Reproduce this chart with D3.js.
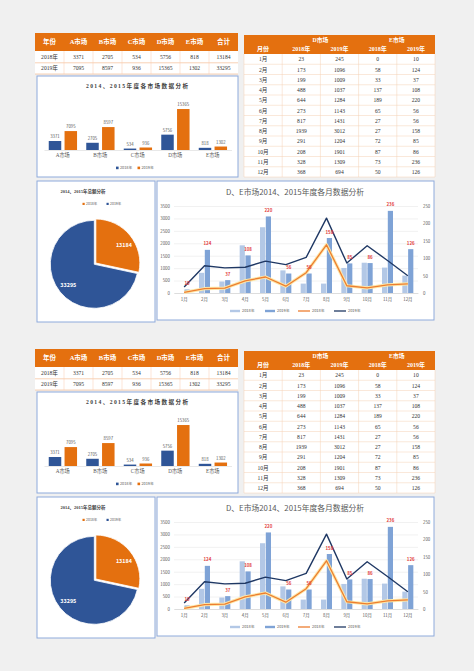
<!DOCTYPE html>
<html><head><meta charset="utf-8">
<script src="https://cdn.jsdelivr.net/npm/d3@7"></script>
<style>
html,body{margin:0;padding:0;background:#f0f0f0;}
svg{display:block;}
</style></head><body>
<svg id="c" width="474" height="671"></svg>
<script>
// ---------- data ----------
const markets = ["A市场","B市场","C市场","D市场","E市场"];
const years = ["2018年","2019年"];
const market2018 = [3371,2705,534,5756,818];
const market2019 = [7095,8597,936,15365,1302];
const months = ["1月","2月","3月","4月","5月","6月","7月","8月","9月","10月","11月","12月"];
const d2018 = [23,173,199,488,644,273,817,1939,291,208,328,368];
const d2019 = [245,1096,1009,1037,1284,1143,1431,3012,1204,1901,1309,694];
const e2018 = [0,58,33,137,189,65,27,27,72,87,73,50];
const e2019 = [10,124,37,108,220,56,56,158,85,86,236,126];
const leftTicks = [0,500,1000,1500,2000,2500,3000,3500];
const rightTicks = [0,50,100,150,200,250];
const tableHeader = ["年份"].concat(markets, ["合计"]);
const barTitle = "2014、2015年度各市场数据分析";
const pieTitle = "2014、2015年总额分析";
const comboTitle = "D、E市场2014、2015年度各月数据分析";

const total2018 = d3.sum(market2018), total2019 = d3.sum(market2019);

const ORANGE = "#e4700f", NAVY = "#2f5597", BORDER = "#8eaadb";
const LINE_OR = "#ed7d31", LINE_NV = "#1f3864";
const BAR_L = "#b3c8e6", BAR_D = "#7fa3d6";
const SERIF = "'Liberation Serif','Noto Sans CJK SC',serif";
const SANS = "'Noto Sans CJK SC','Liberation Sans',sans-serif";
const GRAY = "#595959";
const fmt = d3.format("d");

const svg = d3.select("#c");

function half(g){
  // ===== Left table =====
  const tX = 35, colW = 29, tW = colW*7;
  g.append("rect").attr("x",tX).attr("y",51).attr("width",tW).attr("height",23).attr("fill","#fff");
  g.append("rect").attr("x",tX).attr("y",33).attr("width",tW).attr("height",18).attr("fill",ORANGE);
  g.selectAll(".th").data(tableHeader).join("text")
    .attr("x",(d,i)=>tX+colW*i+colW/2).attr("y",42).attr("dy","0.35em")
    .attr("text-anchor","middle").attr("fill","#fff").attr("font-weight","bold")
    .attr("font-size",6.5).attr("font-family",SERIF).text(d=>d);
  const rows = [[years[0]].concat(market2018,[total2018]),[years[1]].concat(market2019,[total2019])];
  rows.forEach((r,ri)=>{
    const cy = 57.3 + ri*11;
    g.selectAll(".tr"+ri).data(r).join("text")
      .attr("x",(d,i)=>tX+colW*i+colW/2).attr("y",cy).attr("dy","0.35em")
      .attr("text-anchor","middle").attr("fill","#333").attr("font-size",5.6)
      .attr("font-family",SERIF).text(d=>d);
  });
  [62.8,74].forEach(y=>g.append("line").attr("x1",tX).attr("x2",tX+tW).attr("y1",y).attr("y2",y)
    .attr("stroke","#f4b183").attr("stroke-width",0.6));
  d3.range(1,7).forEach(i=>g.append("line").attr("x1",tX+colW*i).attr("x2",tX+colW*i)
    .attr("y1",51).attr("y2",74).attr("stroke","#f8cbad").attr("stroke-width",0.5));

  // ===== Bar chart =====
  g.append("rect").attr("x",37).attr("y",76).attr("width",201).attr("height",101)
    .attr("fill","#fff").attr("stroke",BORDER).attr("stroke-width",1);
  g.append("text").attr("x",137).attr("y",86).attr("dy","0.35em").attr("text-anchor","middle")
    .attr("font-size",5.6).attr("font-weight","bold").attr("fill","#404040").attr("font-family",SERIF)
    .attr("textLength",102).attr("lengthAdjust","spacing").text(barTitle);
  const bx = d3.scaleBand().domain(markets).range([44,231.5]);
  const by = d3.scaleLinear().domain([0,18000]).range([150,102]);
  const bw = 12.5;
  const bars = [{vals:market2018,col:NAVY,off:-14},{vals:market2019,col:ORANGE,off:1.8}];
  bars.forEach(s=>{
    const cx = m=>bx(m)+bx.bandwidth()/2+s.off;
    g.selectAll(null).data(markets).join("rect")
      .attr("x",cx).attr("width",bw)
      .attr("y",(m,i)=>by(s.vals[i])).attr("height",(m,i)=>by(0)-by(s.vals[i])).attr("fill",s.col);
    g.selectAll(null).data(markets).join("text")
      .attr("x",m=>cx(m)+bw/2).attr("y",(m,i)=>by(s.vals[i])-3)
      .attr("text-anchor","middle").attr("font-size",4.3).attr("fill",GRAY).attr("font-family",SANS)
      .text((m,i)=>s.vals[i]);
  });
  const bAxis = g.append("g").attr("transform","translate(0,150)")
    .call(d3.axisBottom(bx).tickSize(0).tickPadding(3.5));
  bAxis.select(".domain").attr("stroke","#d9d9d9").attr("stroke-width",0.6);
  bAxis.selectAll("text").attr("font-size",5.2).attr("fill",GRAY).attr("font-family",SERIF);
  [{c:NAVY,t:years[0],x:116},{c:ORANGE,t:years[1],x:137.5}].forEach(l=>{
    g.append("rect").attr("x",l.x).attr("y",166.6).attr("width",2.6).attr("height",2.6).attr("fill",l.c);
    g.append("text").attr("x",l.x+4).attr("y",168).attr("dy","0.35em").attr("font-size",3.8)
      .attr("fill",GRAY).attr("font-family",SANS).text(l.t);
  });

  // ===== Right table =====
  const rX = 244, rW = 38.2, rTop = 35, hH = 19, rowH = 10.25;
  g.append("rect").attr("x",rX).attr("y",rTop+hH).attr("width",rW*5).attr("height",rowH*12).attr("fill","#fff");
  g.append("rect").attr("x",rX).attr("y",rTop).attr("width",rW*5).attr("height",hH).attr("fill",ORANGE);
  const hdrStyle = s=>s.attr("text-anchor","middle").attr("fill","#fff").attr("font-weight","bold")
    .attr("font-family",SERIF).attr("dy","0.35em");
  g.append("text").attr("x",rX+rW*2).attr("y",40).attr("font-size",5.8).call(hdrStyle).text("D市场");
  g.append("text").attr("x",rX+rW*4).attr("y",40).attr("font-size",5.8).call(hdrStyle).text("E市场");
  ["月份",years[0],years[1],years[0],years[1]].forEach((t,i)=>
    g.append("text").attr("x",rX+rW*i+rW/2).attr("y",48.8).attr("font-size",6).call(hdrStyle).text(t));
  const cols = [months,d2018,d2019,e2018,e2019];
  cols.forEach((arr,ci)=>{
    g.selectAll(null).data(arr).join("text")
      .attr("x",rX+rW*ci+rW/2).attr("y",(d,i)=>rTop+hH+rowH*i+rowH/2+0.3).attr("dy","0.35em")
      .attr("text-anchor","middle").attr("font-size",5.6).attr("fill","#333").attr("font-family",SERIF)
      .text(d=>d);
  });
  d3.range(1,13).forEach(i=>g.append("line").attr("x1",rX).attr("x2",rX+rW*5)
    .attr("y1",rTop+hH+rowH*i).attr("y2",rTop+hH+rowH*i).attr("stroke","#f4d0b4").attr("stroke-width",0.5));
  d3.range(0,6).forEach(i=>g.append("line").attr("x1",rX+rW*i).attr("x2",rX+rW*i)
    .attr("y1",rTop+hH).attr("y2",rTop+hH+rowH*12).attr("stroke","#f4d0b4").attr("stroke-width",0.5));

  // ===== Pie =====
  g.append("rect").attr("x",37).attr("y",181).attr("width",118).attr("height",141)
    .attr("fill","#fff").attr("stroke",BORDER).attr("stroke-width",1);
  g.append("text").attr("x",83).attr("y",191).attr("dy","0.35em").attr("text-anchor","middle")
    .attr("font-size",5).attr("font-weight","bold").attr("fill","#404040").attr("font-family",SERIF)
    .attr("textLength",45).attr("lengthAdjust","spacingAndGlyphs").text(pieTitle);
  [{c:ORANGE,t:years[0],x:82.5},{c:NAVY,t:years[1],x:106.5}].forEach(l=>{
    g.append("rect").attr("x",l.x).attr("y",202.8).attr("width",2.2).attr("height",2.2).attr("fill",l.c);
    g.append("text").attr("x",l.x+3.5).attr("y",204).attr("dy","0.35em").attr("font-size",3.5)
      .attr("fill",GRAY).attr("font-family",SANS).text(l.t);
  });
  const pieData = d3.pie().sort(null).value(d=>d)([total2018,total2019]);
  const pcx = 94.3, pcy = 264.3, R = 44;
  const arc = d3.arc().innerRadius(0).outerRadius(R);
  const lblArc = d3.arc().innerRadius(R*0.76).outerRadius(R*0.76);
  const pg = g.append("g").attr("transform",`translate(${pcx},${pcy})`);
  pieData.forEach((p,i)=>{
    const mid = (p.startAngle+p.endAngle)/2;
    const ex = i===0 ? 2 : 0;
    const dx = Math.sin(mid)*ex, dy = -Math.cos(mid)*ex;
    pg.append("path").attr("d",arc(p)).attr("transform",`translate(${dx},${dy})`)
      .attr("fill",i===0?ORANGE:NAVY).attr("stroke","#fff").attr("stroke-width",0.8);
    const c = lblArc.centroid(p);
    pg.append("text").attr("x",c[0]+dx+(i===0?2:0)).attr("y",c[1]+dy+(i===0?3:0)).attr("dy","0.35em")
      .attr("text-anchor","middle").attr("font-size",5.4).attr("font-weight","bold").attr("fill","#fff")
      .attr("font-family",SANS).text(p.data);
  });

  // ===== Combo chart =====
  g.append("rect").attr("x",157).attr("y",181).attr("width",277).attr("height",139)
    .attr("fill","#fff").attr("stroke",BORDER).attr("stroke-width",1);
  g.append("text").attr("x",295).attr("y",192).attr("dy","0.35em").attr("text-anchor","middle")
    .attr("font-size",7.8).attr("fill",GRAY).attr("font-family",SANS).text(comboTitle);
  const x = d3.scaleBand().domain(months).range([174,418]);
  const yL = d3.scaleLinear().domain([0,3500]).range([293,206]);
  const yR = d3.scaleLinear().domain([0,250]).range([293,206]);
  const la = g.append("g").attr("transform","translate(174,0)")
    .call(d3.axisLeft(yL).tickValues(leftTicks).tickFormat(fmt).tickSize(-244).tickPadding(4));
  la.select(".domain").remove();
  la.selectAll("line").attr("stroke","#e3e3e3").attr("stroke-width",0.5);
  la.selectAll("text").attr("font-size",4.4).attr("fill",GRAY).attr("font-family",SANS);
  const ra = g.append("g").attr("transform","translate(418,0)")
    .call(d3.axisRight(yR).tickValues(rightTicks).tickFormat(fmt).tickSize(0).tickPadding(5));
  ra.select(".domain").remove();
  ra.selectAll("text").attr("font-size",4.4).attr("fill",GRAY).attr("font-family",SANS);
  const xa = g.append("g").attr("transform","translate(0,293)")
    .call(d3.axisBottom(x).tickSize(0).tickPadding(4.5));
  xa.select(".domain").attr("stroke","#d0d0d0").attr("stroke-width",0.6);
  xa.selectAll("text").attr("font-size",4.4).attr("fill",GRAY).attr("font-family",SANS);
  const cxm = m=>x(m)+x.bandwidth()/2;
  const cbw = 5.2;
  g.selectAll(null).data(months).join("rect")
    .attr("x",m=>cxm(m)-cbw-0.3).attr("width",cbw)
    .attr("y",(m,i)=>yR(e2018[i])).attr("height",(m,i)=>yR(0)-yR(e2018[i])).attr("fill",BAR_L);
  g.selectAll(null).data(months).join("rect")
    .attr("x",m=>cxm(m)+0.3).attr("width",cbw)
    .attr("y",(m,i)=>yR(e2019[i])).attr("height",(m,i)=>yR(0)-yR(e2019[i])).attr("fill",BAR_D);
  const lineL = arr=>d3.line().x((d,i)=>cxm(months[i])).y(d=>yL(d))(arr);
  g.append("path").attr("d",lineL(d2018)).attr("fill","none").attr("stroke","#fde7a6")
    .attr("stroke-width",3.2).attr("stroke-linejoin","round");
  g.append("path").attr("d",lineL(d2018)).attr("fill","none").attr("stroke",LINE_OR)
    .attr("stroke-width",1.3).attr("stroke-linejoin","round");
  g.append("path").attr("d",lineL(d2019)).attr("fill","none").attr("stroke",LINE_NV)
    .attr("stroke-width",1.4).attr("stroke-linejoin","round");
  g.selectAll(null).data(months).join("text")
    .attr("x",m=>cxm(m)+0.3+cbw/2).attr("y",(m,i)=>yR(e2019[i])-4.5)
    .attr("text-anchor","middle").attr("font-size",4.4).attr("font-weight","bold").attr("fill","#e23b3b")
    .attr("font-family",SANS).text((m,i)=>e2019[i]);
  // legend
  const lg = [
    {t:years[0],type:"bar",c:BAR_L,x:230},
    {t:years[1],type:"bar",c:BAR_D,x:265},
    {t:years[0],type:"line",c:LINE_OR,x:298},
    {t:years[1],type:"line",c:LINE_NV,x:334}
  ];
  lg.forEach(l=>{
    if(l.type==="bar") g.append("rect").attr("x",l.x).attr("y",309.8).attr("width",10).attr("height",2.4).attr("fill",l.c);
    else g.append("line").attr("x1",l.x).attr("x2",l.x+12).attr("y1",311).attr("y2",311).attr("stroke",l.c).attr("stroke-width",1.3);
    g.append("text").attr("x",l.x+(l.type==="bar"?12:14)).attr("y",311).attr("dy","0.35em")
      .attr("font-size",3.9).attr("fill",GRAY).attr("font-family",SANS).text(l.t);
  });
}

half(svg.append("g"));
half(svg.append("g").attr("transform","translate(0,316)"));
</script>
</body></html>
